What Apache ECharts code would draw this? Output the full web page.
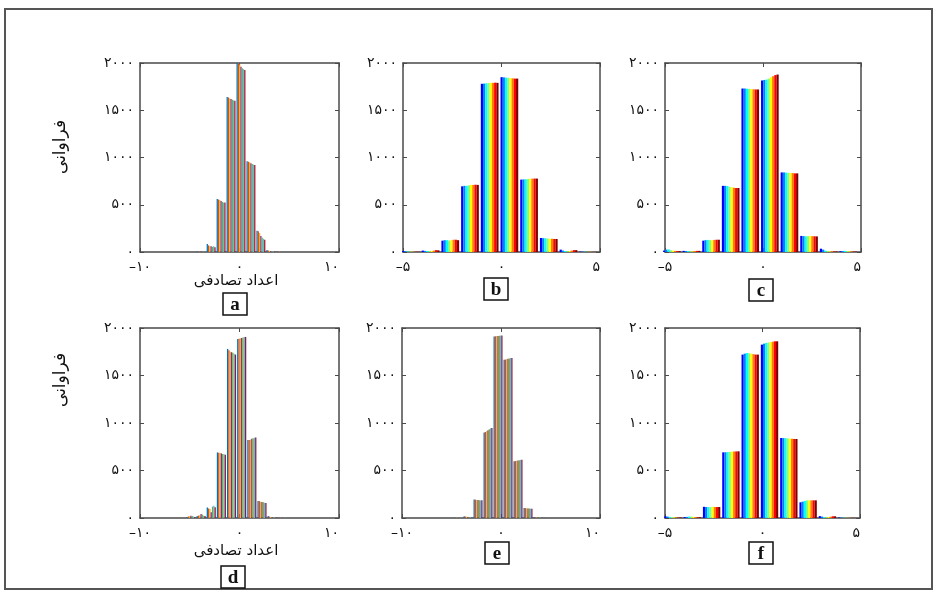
<!DOCTYPE html>
<html><head><meta charset="utf-8">
<script src="https://cdn.jsdelivr.net/npm/echarts@6/dist/echarts.min.js"></script>
<style>html,body{margin:0;padding:0;background:#fff}#c{width:938px;height:592px}</style>
</head><body><div id="c"></div>
<script>
// ---------- data ----------
const yTicks = [0, 500, 1000, 1500, 2000];
const xTicksA = [-10, 0, 10];
const xTicksB = [-5, 0, 5];
const xTicksC = [-5, 0, 5];
const xTicksD = [-10, 0, 10];
const xTicksE = [-10, 0, 10];
const xTicksF = [-5, 0, 5];

const yLabelText = 'فراوانی';
const xLabelText = 'اعداد تصادفی';
const panelLetters = ['a', 'b', 'c', 'd', 'e', 'f'];

const colorsLines = ['#0072BD', '#D95319', '#EDB120', '#7E2F8E', '#77AC30', '#4DBEEE', '#A2142F'];
const colorsJet = ['#0000ff', '#0080ff', '#00ffff', '#80ff80', '#ffff00', '#ff8000', '#ff0000', '#800000'];

// bin centres and counts (rows = bins, columns = data columns)
const binsA = [-3.85, -2.85, -1.85, -0.85, 0.15, 1.15, 2.15, 3.15, 4.15, 5.15];
const countsA = [
  [5, 3, 2, 4, 2, 3, 1],
  [85, 70, 60, 60, 55, 60, 50],
  [560, 555, 550, 540, 530, 525, 525],
  [1640, 1635, 1625, 1620, 1610, 1605, 1600],
  [2000, 1995, 1985, 1960, 1945, 1935, 1925],
  [960, 955, 950, 940, 930, 925, 920],
  [225, 220, 200, 170, 150, 140, 130],
  [20, 15, 12, 10, 8, 6, 5],
  [3, 2, 2, 1, 1, 1, 0],
  [1, 0, 0, 0, 0, 0, 0]
];

const binsB = [-4.6, -3.6, -2.6, -1.6, -0.6, 0.4, 1.4, 2.4, 3.4, 4.4];
const countsB = [
  [10, 8, 6, 5, 4, 3, 3, 2],
  [15, 12, 10, 10, 12, 15, 20, 18],
  [120, 125, 125, 120, 125, 130, 130, 125],
  [695, 700, 700, 705, 710, 710, 712, 710],
  [1780, 1782, 1785, 1788, 1790, 1790, 1792, 1790],
  [1850, 1848, 1845, 1843, 1840, 1838, 1835, 1835],
  [766, 768, 770, 772, 775, 776, 777, 777],
  [148, 146, 145, 143, 140, 140, 138, 138],
  [25, 15, 10, 8, 10, 15, 20, 20],
  [4, 3, 3, 2, 2, 2, 2, 1]
];

const binsC = [-4.65, -3.65, -2.65, -1.65, -0.65, 0.35, 1.35, 2.35, 3.35, 4.35];
const countsC = [
  [15, 25, 28, 20, 15, 12, 10, 10],
  [12, 10, 10, 8, 8, 10, 12, 12],
  [120, 125, 128, 125, 125, 128, 130, 130],
  [700, 700, 698, 690, 685, 680, 677, 677],
  [1730, 1730, 1728, 1726, 1724, 1722, 1720, 1720],
  [1815, 1820, 1825, 1835, 1848, 1860, 1872, 1878],
  [842, 842, 840, 838, 836, 835, 832, 832],
  [170, 168, 166, 168, 170, 168, 166, 165],
  [35, 25, 15, 10, 8, 8, 6, 5],
  [8, 10, 12, 10, 8, 6, 5, 4]
];

const binsD = [-4.88, -3.86, -2.84, -1.82, -0.80, 0.22, 1.24, 2.26, 3.28, 4.30];
const countsD = [
  [10, 15, 20, 25, 20, 15, 10],
  [20, 25, 30, 42, 35, 25, 20],
  [110, 100, 95, 60, 120, 130, 112],
  [690, 688, 685, 680, 675, 670, 667],
  [1780, 1765, 1750, 1745, 1740, 1730, 1720],
  [1885, 1888, 1892, 1895, 1900, 1905, 1906],
  [820, 822, 825, 835, 840, 845, 848],
  [180, 178, 172, 168, 165, 160, 158],
  [20, 15, 10, 8, 6, 5, 5],
  [5, 4, 3, 3, 2, 2, 1]
];

const binsE = [-4.34, -3.33, -2.32, -1.31, -0.30, 0.71, 1.72, 2.73, 3.74, 4.75];
const countsE = [
  [3, 2, 2, 1, 1, 1, 0],
  [18, 15, 12, 10, 8, 6, 5],
  [195, 193, 190, 190, 188, 186, 186],
  [900, 905, 915, 925, 935, 945, 948],
  [1910, 1913, 1915, 1916, 1918, 1920, 1920],
  [1665, 1668, 1672, 1676, 1680, 1684, 1685],
  [597, 600, 603, 606, 609, 612, 614],
  [105, 104, 103, 101, 100, 99, 98],
  [10, 8, 6, 5, 4, 3, 2],
  [2, 1, 1, 0, 0, 0, 0]
];

const binsF = [-4.59, -3.60, -2.61, -1.62, -0.63, 0.36, 1.35, 2.34, 3.33, 4.32];
const countsF = [
  [18, 15, 12, 10, 8, 6, 5, 5],
  [10, 12, 15, 15, 12, 10, 8, 8],
  [118, 116, 115, 116, 117, 116, 115, 116],
  [691, 692, 694, 696, 698, 700, 701, 702],
  [1720, 1730, 1737, 1734, 1730, 1725, 1720, 1720],
  [1825, 1835, 1843, 1848, 1852, 1856, 1860, 1860],
  [842, 841, 840, 838, 836, 834, 832, 832],
  [165, 172, 180, 186, 186, 186, 186, 186],
  [20, 15, 10, 8, 10, 14, 18, 18],
  [5, 4, 3, 3, 2, 2, 2, 1]
];

// ---------- layout ----------
const panels = [
  { bins: binsA, counts: countsA, colors: colorsLines, ticks: xTicksA, box: [140, 63, 199, 189], tag: [235, 304] },
  { bins: binsB, counts: countsB, colors: colorsJet,   ticks: xTicksB, box: [403, 63, 197, 189], tag: [496, 289] },
  { bins: binsC, counts: countsC, colors: colorsJet,   ticks: xTicksC, box: [665, 63, 196, 189], tag: [761, 290] },
  { bins: binsD, counts: countsD, colors: colorsLines, ticks: xTicksD, box: [140, 328, 199, 190], tag: [233, 577] },
  { bins: binsE, counts: countsE, colors: colorsLines, ticks: xTicksE, box: [402, 328, 198, 190], tag: [497, 553] },
  { bins: binsF, counts: countsF, colors: colorsJet,   ticks: xTicksF, box: [665, 328, 195, 190], tag: [761, 553] }
];

const faDigits = '۰۱۲۳۴۵۶۷۸۹';
function fa(v) {
  return String(v).replace(/-/g, '–').replace(/\d/g, d => faDigits[d]);
}

const AX = '#4a4a4a';
const grid = [], xAxis = [], yAxis = [], series = [];
panels.forEach((p, i) => {
  grid.push({ left: p.box[0], top: p.box[1], width: p.box[2], height: p.box[3], containLabel: false });
  const xmin = p.ticks[0], xmax = p.ticks[p.ticks.length - 1], xint = p.ticks[1] - p.ticks[0];
  const baseX = {
    type: 'value', gridIndex: i, min: xmin, max: xmax, interval: xint,
    axisLine: { show: true, onZero: false, lineStyle: { color: AX, width: 1.5 } },
    axisTick: { show: true, inside: true, length: 4, lineStyle: { color: AX, width: 1 } },
    splitLine: { show: false }
  };
  xAxis.push(Object.assign({}, baseX, {
    position: 'bottom',
    axisLabel: { formatter: fa, color: '#111', fontSize: 14, margin: 8, fontFamily: 'DejaVu Sans', alignMaxLabel: 'right' }
  }));
  xAxis.push(Object.assign({}, baseX, { position: 'top', axisLabel: { show: false } }));
  const baseY = {
    type: 'value', gridIndex: i, min: yTicks[0], max: yTicks[yTicks.length - 1], interval: yTicks[1] - yTicks[0],
    axisLine: { show: true, onZero: false, lineStyle: { color: AX, width: 1.5 } },
    axisTick: { show: true, inside: true, length: 4, lineStyle: { color: AX, width: 1 } },
    splitLine: { show: false }
  };
  yAxis.push(Object.assign({}, baseY, {
    position: 'left',
    axisLabel: { formatter: fa, color: '#111', fontSize: 14, margin: 6, fontFamily: 'DejaVu Sans' }
  }));
  yAxis.push(Object.assign({}, baseY, { position: 'right', axisLabel: { show: false } }));

  const nSer = p.counts[0].length;
  for (let s = 0; s < nSer; s++) {
    series.push({
      type: 'bar', xAxisIndex: 2 * i, yAxisIndex: 2 * i,
      data: p.bins.map((b, k) => [b, p.counts[k][s]]),
      itemStyle: { color: p.colors[s] },
      barGap: '0%', barCategoryGap: '10%',
      silent: true
    });
  }
});

const graphic = [
  { type: 'rect', shape: { x: 5, y: 9, width: 927, height: 580 }, style: { fill: null, stroke: '#555', lineWidth: 2 }, silent: true },
  { type: 'text', x: 61, y: 147, rotation: Math.PI / 2, style: { text: yLabelText, fontSize: 17, fontFamily: 'DejaVu Sans', fill: '#111', align: 'center', verticalAlign: 'middle' } },
  { type: 'text', x: 61, y: 380, rotation: Math.PI / 2, style: { text: yLabelText, fontSize: 17, fontFamily: 'DejaVu Sans', fill: '#111', align: 'center', verticalAlign: 'middle' } },
  { type: 'text', x: 236, y: 281, style: { text: xLabelText, fontSize: 15, fontFamily: 'DejaVu Sans', fill: '#111', align: 'center', verticalAlign: 'middle' } },
  { type: 'text', x: 236, y: 551, style: { text: xLabelText, fontSize: 15, fontFamily: 'DejaVu Sans', fill: '#111', align: 'center', verticalAlign: 'middle' } }
];
panels.forEach((p, i) => {
  const cx = p.tag[0], cy = p.tag[1];
  graphic.push({ type: 'rect', shape: { x: cx - 12, y: cy - 11, width: 24, height: 22 }, style: { fill: '#fff', stroke: '#111', lineWidth: 1.5 } });
  graphic.push({ type: 'text', x: cx, y: cy + 1, style: { text: panelLetters[i], fontSize: 19, fontWeight: 'bold', fontFamily: 'Liberation Serif', fill: '#111', align: 'center', verticalAlign: 'middle' } });
});

const chart = echarts.init(document.getElementById('c'), null, { renderer: 'canvas' });
chart.setOption({
  animation: false,
  backgroundColor: '#fff',
  grid, xAxis, yAxis, series, graphic
});
</script>
</body></html>
